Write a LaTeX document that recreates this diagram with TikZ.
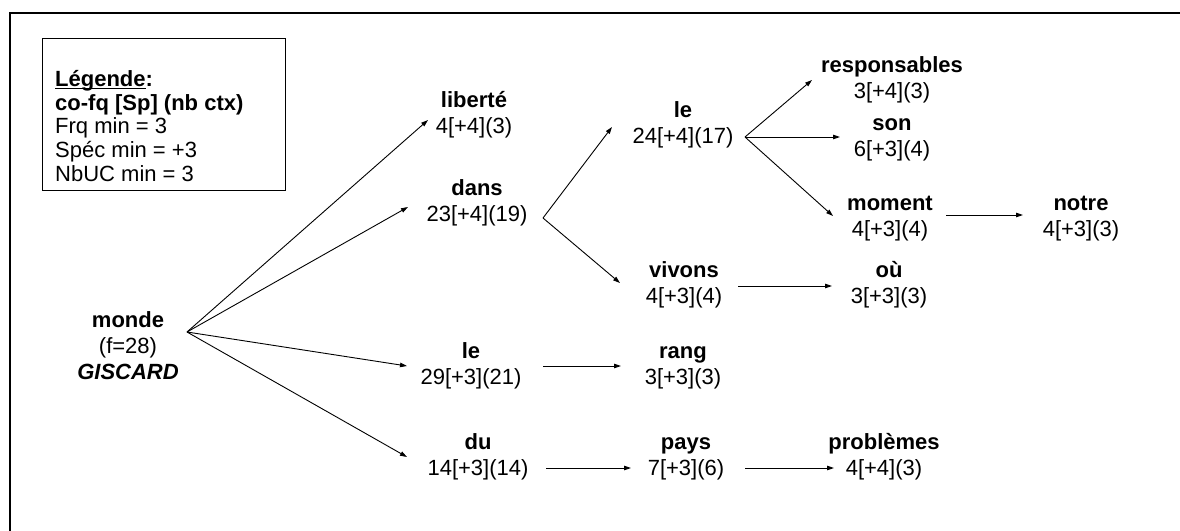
\documentclass[tikz,border=0pt]{standalone}
\usepackage{fontspec}
\setmainfont{Liberation Sans}
\usetikzlibrary{arrows.meta}
\newcommand\myul[1]{\setbox0\hbox{#1}\rlap{\rule[-2.6pt]{\wd0}{1.4pt}}\box0}
\begin{document}
\begin{tikzpicture}[x=1pt,y=-1pt,
  wnode/.style={align=center,inner sep=0pt,anchor=center,font=\fontsize{22}{26}\selectfont},
  arr/.style={line width=0.9pt,-{Triangle[length=7pt,width=4.5pt]}},
  frame/.style={line width=2.5pt}]
\useasboundingbox (0,0) rectangle (1180,530);
\fill[white] (0,0) rectangle (1180,530);
% outer frame (left and top only)
\draw[frame] (10,531) -- (10,13) -- (1181,13);
% legend
\node[draw,line width=1.2pt,anchor=north west,minimum width=243pt,minimum height=152pt,inner sep=0pt] (legendbox) at (42,38) {};
\node[anchor=north west,inner sep=0pt,align=left,font=\fontsize{22}{22.6}\selectfont] (legend) at (55,70)
 {\strut\textbf{\myul{Légende}:}\\ \strut\textbf{co-fq [Sp] (nb ctx)}\\ \strut Frq min = 3\\ \strut Spéc min = +3\\ \strut NbUC min = 3};
% nodes
\node[wnode] (monde) at (128,348) {\strut\textbf{monde}\\ \strut(f=28)\\ \strut\textbf{\textit{GISCARD}}};
\node[wnode] (liberte) at (474,115) {\strut\textbf{liberté}\\ \strut 4[+4](3)};
\node[wnode] (dans) at (477,203) {\strut\textbf{dans}\\ \strut 23[+4](19)};
\node[wnode] (leA) at (683,125) {\strut\textbf{le}\\ \strut 24[+4](17)};
\node[wnode] (vivons) at (684,285) {\strut\textbf{vivons}\\ \strut 4[+3](4)};
\node[wnode] (leB) at (471,366) {\strut\textbf{le}\\ \strut 29[+3](21)};
\node[wnode] (rang) at (683,366) {\strut\textbf{rang}\\ \strut 3[+3](3)};
\node[wnode] (du) at (478,457) {\strut\textbf{du}\\ \strut 14[+3](14)};
\node[wnode] (pays) at (686,457) {\strut\textbf{pays}\\ \strut 7[+3](6)};
\node[wnode] (problemes) at (884,457) {\strut\textbf{problèmes}\\ \strut 4[+4](3)};
\node[wnode] (responsables) at (892,80) {\strut\textbf{responsables}\\ \strut 3[+4](3)};
\node[wnode] (son) at (892,138) {\strut\textbf{son}\\ \strut 6[+3](4)};
\node[wnode] (moment) at (890,218) {\strut\textbf{moment}\\ \strut 4[+3](4)};
\node[wnode] (notre) at (1081,218) {\strut\textbf{notre}\\ \strut 4[+3](3)};
\node[wnode] (ou) at (889,285) {\strut\textbf{où}\\ \strut 3[+3](3)};
% connector points
\coordinate (hubM) at (187,332);
\coordinate (hubD) at (543,218);
\coordinate (hubL) at (745,137);
\coordinate (tLib) at (428,120);
\coordinate (tDans) at (408,207);
\coordinate (tLeB) at (407,366);
\coordinate (tDu) at (407,457);
\coordinate (tLeA) at (612,127);
\coordinate (tViv) at (620,283);
\coordinate (tResp) at (812,80);
\coordinate (tSon) at (840,137);
\coordinate (tMom) at (833,216);
\coordinate (sMom) at (946,215);
\coordinate (tNot) at (1023,215);
\coordinate (sViv) at (738,286);
\coordinate (tOu) at (832,286);
\coordinate (sLeB) at (543,366);
\coordinate (tRang) at (621,366);
\coordinate (sDu) at (546,468);
\coordinate (tPays) at (631,468);
\coordinate (sPays) at (745,468);
\coordinate (tProb) at (834,468);
% connectors
\draw[arr] (hubM) -- (tLib);
\draw[arr] (hubM) -- (tDans);
\draw[arr] (hubM) -- (tLeB);
\draw[arr] (hubM) -- (tDu);
\draw[arr] (hubD) -- (tLeA);
\draw[arr] (hubD) -- (tViv);
\draw[arr] (hubL) -- (tResp);
\draw[arr] (hubL) -- (tSon);
\draw[arr] (hubL) -- (tMom);
\draw[arr] (sMom) -- (tNot);
\draw[arr] (sViv) -- (tOu);
\draw[arr] (sLeB) -- (tRang);
\draw[arr] (sDu) -- (tPays);
\draw[arr] (sPays) -- (tProb);
\end{tikzpicture}
\end{document}
